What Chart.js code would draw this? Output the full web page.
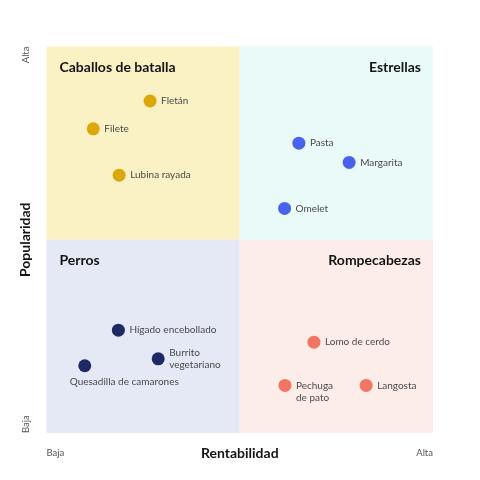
<!DOCTYPE html>
<html>
<head>
<meta charset="utf-8">
<script src="https://cdn.jsdelivr.net/npm/chart.js@4"></script>
<style>
  html, body { margin: 0; padding: 0; background: #fff; }
  #wrap { width: 480px; height: 480px; }
</style>
</head>
<body>
<div id="wrap"><canvas id="matrix"></canvas></div>
<script>
// Caballos de batalla
const caballosNames = ["Fletán", "Filete", "Lubina rayada"];
const caballosX = [2.68, 1.21, 1.88];
const caballosY = [8.59, 7.87, 6.67];

// Estrellas
const estrellasNames = ["Pasta", "Margarita", "Omelet"];
const estrellasX = [6.53, 7.83, 6.16];
const estrellasY = [7.50, 7.00, 5.81];

// Perros
const perrosNames = ["Hígado encebollado", "Burrito\nvegetariano", "Quesadilla de camarones"];
const perrosX = [1.86, 2.89, 0.99];
const perrosY = [2.66, 1.92, 1.74];

// Rompecabezas
const rompeNames = ["Lomo de cerdo", "Pechuga\nde pato", "Langosta"];
const rompeX = [6.92, 6.17, 8.27];
const rompeY = [2.35, 1.23, 1.23];

const FONT = "Lato, 'Open Sans', sans-serif";

function pts(xs, ys, names) {
  return xs.map((x, i) => ({ x: x, y: ys[i], name: names[i] }));
}

// quadrant backgrounds + texts
const matrixPlugin = {
  id: "matrix",
  beforeDatasetsDraw(chart) {
    const { ctx, scales: { x, y } } = chart;
    const x0 = x.getPixelForValue(0), x1 = x.getPixelForValue(5), x2 = x.getPixelForValue(10);
    const y0 = y.getPixelForValue(10), y1 = y.getPixelForValue(5), y2 = y.getPixelForValue(0);
    ctx.save();
    ctx.fillStyle = "#faf1c4"; ctx.fillRect(x0, y0, x1 - x0, y1 - y0);
    ctx.fillStyle = "#eafaf8"; ctx.fillRect(x1, y0, x2 - x1, y1 - y0);
    ctx.fillStyle = "#e4e9f5"; ctx.fillRect(x0, y1, x1 - x0, y2 - y1);
    ctx.fillStyle = "#fdede9"; ctx.fillRect(x1, y1, x2 - x1, y2 - y1);

    // quadrant titles
    ctx.fillStyle = "#141414";
    ctx.font = "bold 14px " + FONT;
    ctx.textBaseline = "middle";
    ctx.textAlign = "left";
    ctx.fillText("Caballos de batalla", x0 + 13, y0 + 21);
    ctx.fillText("Perros", x0 + 13, y1 + 21);
    ctx.textAlign = "right";
    ctx.fillText("Estrellas", x2 - 12, y0 + 21);
    ctx.fillText("Rompecabezas", x2 - 12, y1 + 21);

    // axis titles
    ctx.textAlign = "center";
    ctx.fillText("Rentabilidad", (x0 + x2) / 2, y2 + 20);
    ctx.save();
    ctx.translate(x0 - 21, (y0 + y2) / 2);
    ctx.rotate(-Math.PI / 2);
    ctx.fillText("Popularidad", 0, 0);
    ctx.restore();

    // low / high markers
    ctx.fillStyle = "#555";
    ctx.font = "9.5px " + FONT;
    ctx.textAlign = "left";
    ctx.fillText("Baja", x0, y2 + 20);
    ctx.textAlign = "right";
    ctx.fillText("Alta", x2, y2 + 20);
    ctx.save();
    ctx.translate(x0 - 21, y0);
    ctx.rotate(-Math.PI / 2);
    ctx.textAlign = "right";
    ctx.fillText("Alta", 0, 0);
    ctx.textAlign = "left";
    ctx.fillText("Baja", -(y2 - y0), 0);
    ctx.restore();
    ctx.restore();
  },
  afterDatasetsDraw(chart) {
    const { ctx } = chart;
    ctx.save();
    ctx.fillStyle = "#4a4a4a";
    ctx.font = "10px " + FONT;
    ctx.textBaseline = "middle";
    chart.data.datasets.forEach((ds, di) => {
      chart.getDatasetMeta(di).data.forEach((el, i) => {
        const lines = ds.data[i].name.split("\n");
        if (ds.data[i].name === "Quesadilla de camarones") {
          ctx.textAlign = "center";
          ctx.fillText(lines[0], el.x + 39.5, el.y + 16);
          return;
        }
        ctx.textAlign = "left";
        let top = el.y;
        if (ds.data[i].name.startsWith("Burrito")) top = el.y - 6;
        lines.forEach((ln, k) => ctx.fillText(ln, el.x + 11, top + k * 12));
      });
    });
    ctx.restore();
  }
};

const ctx = document.getElementById("matrix").getContext("2d");
new Chart(ctx, {
  type: "scatter",
  data: {
    datasets: [
      { label: "Caballos de batalla", data: pts(caballosX, caballosY, caballosNames), backgroundColor: "#dba70a" },
      { label: "Estrellas", data: pts(estrellasX, estrellasY, estrellasNames), backgroundColor: "#4763ee" },
      { label: "Perros", data: pts(perrosX, perrosY, perrosNames), backgroundColor: "#1e2963" },
      { label: "Rompecabezas", data: pts(rompeX, rompeY, rompeNames), backgroundColor: "#f27463" }
    ]
  },
  options: {
    responsive: true,
    maintainAspectRatio: false,
    animation: false,
    layout: { padding: { left: 46.5, right: 47, top: 46.5, bottom: 47 } },
    elements: { point: { radius: 6.5, borderWidth: 0, hoverRadius: 6.5 } },
    plugins: {
      legend: { display: false },
      tooltip: { enabled: false }
    },
    scales: {
      x: { type: "linear", min: 0, max: 10, display: false },
      y: { type: "linear", min: 0, max: 10, display: false }
    }
  },
  plugins: [matrixPlugin]
});
</script>
</body>
</html>
